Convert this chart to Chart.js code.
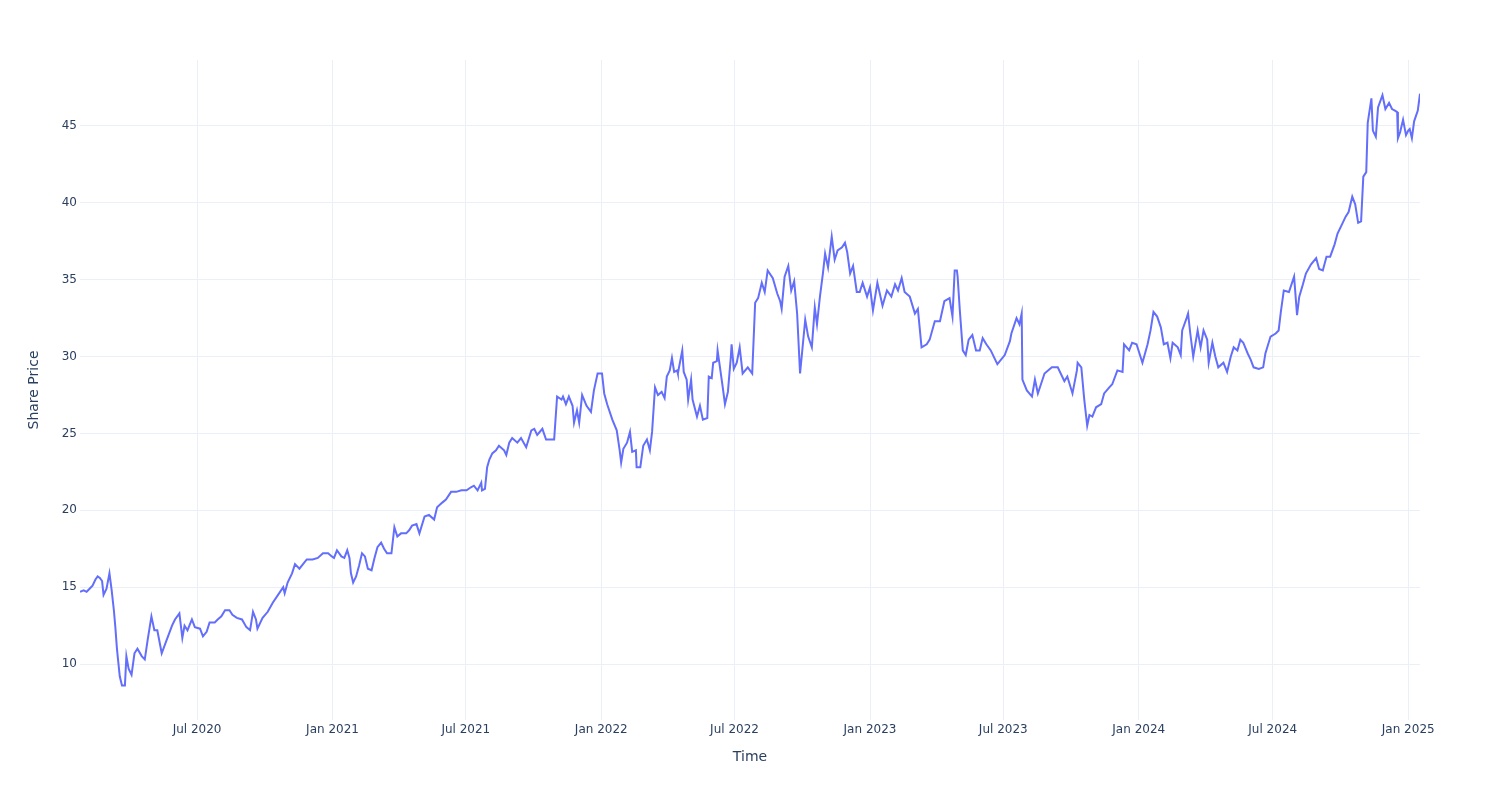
<!DOCTYPE html>
<html><head><meta charset="utf-8">
<script src="https://cdn.jsdelivr.net/npm/chart.js@4.4.1/dist/chart.umd.min.js"></script>
<style>html,body{margin:0;padding:0;background:#fff;overflow:hidden}#wrap{width:1500px;height:800px;position:relative}</style>
</head><body><div id="wrap"><canvas id="c" width="1500" height="800"></canvas></div>
<script>
const dates = [
"2020-01-24","2020-01-29","2020-02-02","2020-02-06","2020-02-10","2020-02-14","2020-02-17","2020-02-20","2020-02-23","2020-02-25",
"2020-02-29","2020-03-04","2020-03-07","2020-03-10","2020-03-12","2020-03-14","2020-03-15","2020-03-18","2020-03-21","2020-03-25",
"2020-03-27","2020-03-30","2020-04-03","2020-04-07","2020-04-11","2020-04-17","2020-04-21","2020-04-25","2020-04-30","2020-05-04",
"2020-05-08","2020-05-14","2020-05-21","2020-05-28","2020-06-01","2020-06-07","2020-06-11","2020-06-14","2020-06-18","2020-06-24",
"2020-06-28","2020-07-05","2020-07-09","2020-07-14","2020-07-18","2020-07-25","2020-07-29","2020-08-03","2020-08-08","2020-08-14",
"2020-08-18","2020-08-24","2020-08-31","2020-09-06","2020-09-11","2020-09-15","2020-09-19","2020-09-21","2020-09-28","2020-10-05",
"2020-10-12","2020-10-19","2020-10-26","2020-10-28","2020-11-01","2020-11-07","2020-11-11","2020-11-17","2020-11-27","2020-12-05",
"2020-12-12","2020-12-19","2020-12-26","2020-12-31",
"2021-01-03","2021-01-07","2021-01-13","2021-01-17","2021-01-21","2021-01-24","2021-01-26","2021-01-29","2021-02-02","2021-02-06",
"2021-02-10","2021-02-14","2021-02-18","2021-02-23","2021-02-27","2021-03-03","2021-03-08","2021-03-12","2021-03-16","2021-03-22",
"2021-03-26","2021-03-30","2021-04-04","2021-04-11","2021-04-15","2021-04-19","2021-04-25","2021-04-29","2021-05-06","2021-05-12",
"2021-05-19","2021-05-23","2021-05-30","2021-06-04","2021-06-11","2021-06-18","2021-06-25","2021-07-02","2021-07-08","2021-07-12",
"2021-07-17","2021-07-22","2021-07-23","2021-07-27","2021-07-30","2021-08-02","2021-08-06","2021-08-11","2021-08-15","2021-08-22",
"2021-08-25","2021-08-29","2021-09-02","2021-09-09","2021-09-14","2021-09-21","2021-09-28","2021-10-02","2021-10-06","2021-10-13",
"2021-10-18","2021-10-25","2021-10-29","2021-11-02","2021-11-08","2021-11-10","2021-11-14","2021-11-18","2021-11-23","2021-11-25",
"2021-11-29","2021-12-02","2021-12-06","2021-12-12","2021-12-18","2021-12-22","2021-12-27",
"2022-01-02","2022-01-05","2022-01-09","2022-01-16","2022-01-22","2022-01-26","2022-01-28","2022-01-31","2022-02-05","2022-02-09",
"2022-02-12","2022-02-17","2022-02-18","2022-02-23","2022-02-27","2022-03-04","2022-03-08","2022-03-11","2022-03-15","2022-03-19",
"2022-03-24","2022-03-28","2022-03-31","2022-04-04","2022-04-07","2022-04-10","2022-04-14","2022-04-15","2022-04-21","2022-04-23",
"2022-04-27","2022-04-29","2022-05-03","2022-05-05","2022-05-11","2022-05-15","2022-05-19","2022-05-25","2022-05-27","2022-05-31",
"2022-06-02","2022-06-07","2022-06-08","2022-06-15","2022-06-18","2022-06-22","2022-06-26","2022-06-27","2022-06-30","2022-07-04",
"2022-07-08","2022-07-12","2022-07-19","2022-07-25","2022-07-29","2022-08-02","2022-08-07","2022-08-11","2022-08-15","2022-08-22",
"2022-08-28","2022-09-01","2022-09-03","2022-09-07","2022-09-12","2022-09-16","2022-09-20","2022-09-24","2022-09-28","2022-10-05",
"2022-10-09","2022-10-14","2022-10-18","2022-10-21","2022-10-25","2022-10-29","2022-11-01","2022-11-05","2022-11-10","2022-11-14",
"2022-11-18","2022-11-24","2022-11-28","2022-12-01","2022-12-05","2022-12-09","2022-12-14","2022-12-18","2022-12-22","2022-12-28",
"2023-01-01","2023-01-05","2023-01-11","2023-01-18","2023-01-24","2023-01-30","2023-02-04","2023-02-08","2023-02-13","2023-02-17",
"2023-02-24","2023-03-03","2023-03-07","2023-03-12","2023-03-19","2023-03-23","2023-03-30","2023-04-06","2023-04-12","2023-04-19",
"2023-04-23","2023-04-26","2023-04-29","2023-04-30","2023-05-03","2023-05-07","2023-05-11","2023-05-15","2023-05-20","2023-05-25",
"2023-05-30","2023-06-03","2023-06-08","2023-06-14","2023-06-19","2023-06-23","2023-07-03","2023-07-10","2023-07-12","2023-07-19",
"2023-07-23","2023-07-26","2023-07-27","2023-08-02","2023-08-09","2023-08-13","2023-08-17","2023-08-26","2023-09-05","2023-09-13",
"2023-09-18","2023-09-22","2023-09-26","2023-10-03","2023-10-09","2023-10-10","2023-10-15","2023-10-19","2023-10-23","2023-10-26",
"2023-10-30","2023-11-04","2023-11-11","2023-11-15","2023-11-22","2023-11-26","2023-12-03","2023-12-10","2023-12-12","2023-12-19",
"2023-12-23","2023-12-29",
"2024-01-06","2024-01-13","2024-01-17","2024-01-21","2024-01-26","2024-01-31","2024-02-04","2024-02-09","2024-02-13","2024-02-16",
"2024-02-23","2024-02-27","2024-02-29","2024-03-06","2024-03-08","2024-03-11","2024-03-15","2024-03-21","2024-03-25","2024-03-29",
"2024-04-03","2024-04-05","2024-04-10","2024-04-14","2024-04-18","2024-04-25","2024-04-30","2024-05-05","2024-05-09","2024-05-14",
"2024-05-18","2024-05-22","2024-05-28","2024-06-01","2024-06-05","2024-06-12","2024-06-18","2024-06-21","2024-06-28","2024-07-05",
"2024-07-09","2024-07-12","2024-07-16","2024-07-23","2024-07-30","2024-08-03","2024-08-06","2024-08-11","2024-08-15","2024-08-22",
"2024-08-29","2024-09-02","2024-09-07","2024-09-12","2024-09-17","2024-09-23","2024-09-27","2024-10-04","2024-10-08","2024-10-12",
"2024-10-17","2024-10-21","2024-10-25","2024-10-29","2024-11-01","2024-11-05","2024-11-07","2024-11-12","2024-11-14","2024-11-18",
"2024-11-21","2024-11-27","2024-12-01","2024-12-06","2024-12-10","2024-12-14","2024-12-17","2024-12-18","2024-12-21","2024-12-25",
"2024-12-29",
"2025-01-01","2025-01-03","2025-01-06","2025-01-09","2025-01-14","2025-01-17"
];
const prices = [
14.7,14.8,14.7,14.9,15.1,15.5,15.7,15.6,15.4,14.5,
14.9,15.9,14.8,13.5,12.4,11.1,10.6,9.2,8.6,8.6,
10.5,9.7,9.3,10.7,11.0,10.5,10.3,11.6,13.1,12.2,
12.2,10.7,11.6,12.5,12.9,13.3,11.7,12.5,12.2,12.9,
12.4,12.3,11.8,12.1,12.7,12.7,12.9,13.1,13.5,13.5,
13.2,13.0,12.9,12.4,12.2,13.4,12.9,12.3,13.0,13.4,
14.0,14.5,15.0,14.6,15.3,15.9,16.5,16.2,16.8,16.8,
16.9,17.2,17.2,17.0,
16.9,17.4,17.0,16.9,17.4,16.9,15.9,15.3,15.7,16.4,
17.2,17.0,16.2,16.1,16.9,17.6,17.9,17.5,17.2,17.2,
18.9,18.3,18.5,18.5,18.7,19.0,19.1,18.5,19.6,19.7,
19.4,20.2,20.5,20.7,21.2,21.2,21.3,21.3,21.5,21.6,
21.3,21.8,21.3,21.4,22.8,23.3,23.7,23.9,24.2,23.9,
23.6,24.4,24.7,24.4,24.7,24.1,25.2,25.3,24.9,25.3,
24.6,24.6,24.6,27.4,27.2,27.4,26.9,27.4,26.8,25.7,
26.5,25.7,27.5,26.8,26.4,27.8,28.9,
28.9,27.6,26.9,25.9,25.2,23.9,23.1,24.0,24.4,25.1,
23.8,23.9,22.8,22.8,24.2,24.6,23.9,25.1,28.0,27.5,
27.7,27.3,28.7,29.1,29.9,29.0,29.1,28.9,30.4,29.0,
28.5,27.2,28.5,27.2,26.1,26.8,25.9,26.0,28.7,28.6,
29.6,29.7,30.4,28.0,26.9,27.7,30.0,30.8,29.2,29.6,
30.6,28.9,29.3,28.9,33.5,33.8,34.8,34.2,35.6,35.1,
34.1,33.6,33.1,35.2,35.9,34.3,34.9,32.8,28.9,32.4,
31.3,30.6,33.2,32.1,33.9,35.4,36.7,35.8,37.8,36.3,
36.9,37.1,37.4,36.8,35.4,35.9,34.2,34.2,34.8,33.9,
34.5,33.0,34.8,33.3,34.3,33.9,34.7,34.3,35.1,34.2,
33.9,32.8,33.1,30.6,30.8,31.1,32.3,32.3,33.6,33.8,
32.6,35.6,35.6,35.2,33.0,30.4,30.1,31.1,31.4,30.4,
30.4,31.2,30.8,30.4,29.9,29.5,30.1,31.0,31.5,32.5,
32.1,32.8,28.5,27.8,27.4,28.5,27.6,28.9,29.3,29.3,
28.8,28.4,28.7,27.6,29.1,29.6,29.3,27.2,25.5,26.2,
26.1,26.7,26.9,27.6,28.0,28.2,29.1,29.0,30.8,30.4,
30.9,30.8,
29.6,30.8,31.7,32.9,32.6,31.9,30.8,30.9,29.9,30.9,
30.6,30.1,31.7,32.5,32.8,31.5,30.0,31.7,30.6,31.7,
31.1,29.6,30.9,30.0,29.3,29.6,29.0,30.0,30.6,30.4,
31.1,30.9,30.2,29.8,29.3,29.2,29.3,30.2,31.3,31.5,
31.7,32.9,34.3,34.2,35.2,32.7,33.9,34.7,35.4,36.0,
36.4,35.7,35.6,36.5,36.5,37.3,38.0,38.7,39.1,39.4,
40.4,39.9,38.7,38.8,41.7,42.0,45.2,46.8,44.7,44.3,
46.2,47.0,46.1,46.5,46.1,46.0,45.9,44.2,44.6,45.4,
44.4,
44.7,44.8,44.2,45.3,46.0,47.1
];
const xTickDates = ["2020-07-01","2021-01-01","2021-07-01","2022-01-01","2022-07-01","2023-01-01","2023-07-01","2024-01-01","2024-07-01","2025-01-01"];
const xTickLabels = ["Jul 2020","Jan 2021","Jul 2021","Jan 2022","Jul 2022","Jan 2023","Jul 2023","Jan 2024","Jul 2024","Jan 2025"];
const yTicks = [10,15,20,25,30,35,40,45];
const yRange = [6.36, 49.29];
const xTitle = "Time";
const yTitle = "Share Price";

const DAY = 86400000;
const toDay = s => Date.parse(s + "T00:00:00Z") / DAY;
const points = dates.map((d, i) => ({x: toDay(d), y: prices[i]}));
const font = {family: "'DejaVu Sans', Verdana, sans-serif", size: 12};
const tfont = {family: "'DejaVu Sans', Verdana, sans-serif", size: 14};
const txt = '#2a3f5f', gridc = '#ebf0f8';

new Chart(document.getElementById('c').getContext('2d'), {
  type: 'line',
  data: {datasets: [{data: points, borderColor: '#636efa', borderWidth: 2, pointRadius: 0, tension: 0, fill: false}]},
  options: {
    responsive: false, animation: false, parsing: false, normalized: true,
    plugins: {legend: {display: false}, tooltip: {enabled: false}},
    layout: {padding: {top: 60, right: 80, left: 0, bottom: 0}},
    scales: {
      x: {
        type: 'linear', min: points[0].x, max: points[points.length - 1].x,
        afterBuildTicks: s => { s.ticks = xTickDates.map(d => ({value: toDay(d)})); },
        afterFit: s => { s.height = 80; },
        ticks: {callback: (v, i) => xTickLabels[i], color: txt, font: font, padding: 3, maxRotation: 0, autoSkip: false},
        grid: {color: gridc, lineWidth: 1, drawTicks: false},
        border: {display: false},
        title: {display: true, text: xTitle, color: txt, font: tfont, padding: {top: 0, bottom: 34}}
      },
      y: {
        type: 'linear', min: yRange[0], max: yRange[1],
        afterBuildTicks: s => { s.ticks = yTicks.map(v => ({value: v})); },
        afterFit: s => { s.width = 80; },
        ticks: {callback: v => String(v), color: txt, font: font, padding: 3},
        grid: {color: gridc, lineWidth: 1, drawTicks: false},
        border: {display: false},
        title: {display: true, text: yTitle, color: txt, font: tfont, padding: {top: 26, bottom: 0}}
      }
    }
  }
});
</script></body></html>
